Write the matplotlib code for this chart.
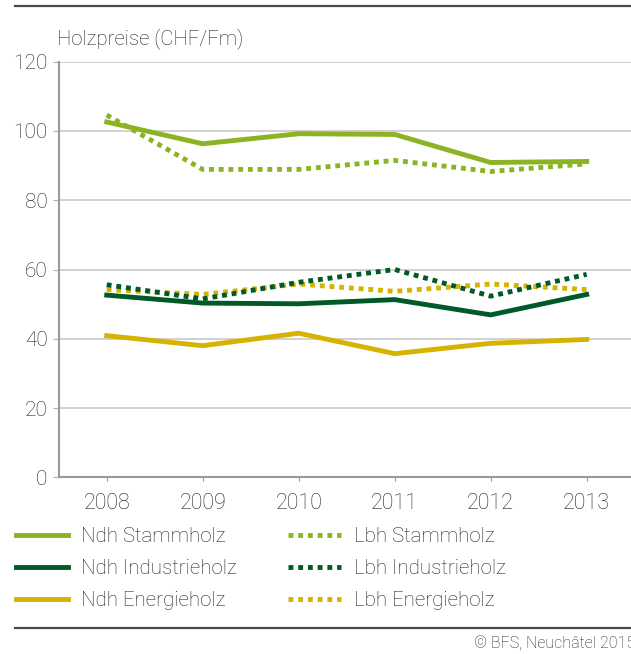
import matplotlib
matplotlib.use("Agg")
import matplotlib.pyplot as plt
from matplotlib.lines import Line2D

plt.rcParams['font.family'] = ['Roboto', 'DejaVu Sans']
plt.rcParams['font.weight'] = 'light'

years = [2008, 2009, 2010, 2011, 2012, 2013]
ndh_stammholz = [102.6, 96.3, 99.2, 99.0, 90.9, 91.2]
lbh_stammholz = [104.6, 88.9, 88.9, 91.5, 88.3, 90.5]
ndh_industrieholz = [52.6, 50.3, 50.1, 51.3, 46.9, 52.8]
lbh_industrieholz = [55.6, 51.5, 56.3, 60.0, 52.3, 58.6]
ndh_energieholz = [40.9, 38.0, 41.6, 35.7, 38.7, 39.8]
lbh_energieholz = [54.2, 52.8, 55.8, 53.7, 55.8, 54.2]
y_ticks = [0, 20, 40, 60, 80, 100, 120]

c_light = '#8bb424'
c_dark = '#005a28'
c_gold = '#d5b300'
txt = '#222222'

W, H = 631, 654
fig = plt.figure(figsize=(W / 100, H / 100), dpi=100)
L, R, T, B = 58.7, 634.7, 61.7, 477.3
ax = fig.add_axes([L / W, 1 - B / H, (R - L) / W, (B - T) / H])

lw = 3.5
dot = (0, (1, 1))
ax.plot(years, lbh_energieholz, color=c_gold, lw=lw, ls=dot, zorder=3)
ax.plot(years, lbh_industrieholz, color=c_dark, lw=lw, ls=dot, zorder=3)
ax.plot(years, lbh_stammholz, color=c_light, lw=lw, ls=dot, zorder=3)
ax.plot(years, ndh_energieholz, color=c_gold, lw=lw, zorder=4)
ax.plot(years, ndh_industrieholz, color=c_dark, lw=lw, zorder=4)
ax.plot(years, ndh_stammholz, color=c_light, lw=lw, zorder=4)

ax.set_xlim(2007.5, 2013.5)
ax.set_ylim(0, 120)
ax.set_yticks(y_ticks)
ax.set_xticks(years)
ax.set_xticklabels([str(y) for y in years])
ax.yaxis.grid(True, color='#c8c8c8', lw=1.2)
ax.set_axisbelow(True)
for s in ['top', 'right']:
    ax.spines[s].set_visible(False)
for s in ['left', 'bottom']:
    ax.spines[s].set_color('#9a9a9a')
    ax.spines[s].set_linewidth(1.5)
ax.tick_params(axis='y', length=4, color='#b0b0b0', labelsize=15, pad=4, labelcolor=txt)
ax.tick_params(axis='x', length=3, color='#9a9a9a', labelsize=15.5, pad=8, labelcolor=txt)

fig.text(57 / W, 1 - 39 / H, 'Holzpreise (CHF/Fm)', fontsize=14.7, va='center', ha='left', color=txt)

handles = [
    Line2D([], [], color=c_light, lw=lw),
    Line2D([], [], color=c_dark, lw=lw),
    Line2D([], [], color=c_gold, lw=lw),
    Line2D([], [], color=c_light, lw=lw, ls=dot),
    Line2D([], [], color=c_dark, lw=lw, ls=dot),
    Line2D([], [], color=c_gold, lw=lw, ls=dot),
]
labels = ['Ndh Stammholz', 'Ndh Industrieholz', 'Ndh Energieholz',
          'Lbh Stammholz', 'Lbh Industrieholz', 'Lbh Energieholz']
leg = fig.legend(handles, labels, ncol=2, loc='upper left',
                 bbox_to_anchor=(16 / W, 1 - 527 / H), frameon=False,
                 fontsize=14.8, handlelength=2.55, handletextpad=0.62,
                 columnspacing=2.5, labelspacing=0.64, borderaxespad=0,
                 borderpad=0)
for t in leg.get_texts():
    t.set_color(txt)

fig.add_artist(Line2D([15 / W, 1], [1 - 6 / H, 1 - 6 / H], color='#4a4a4a', lw=1.6))
fig.add_artist(Line2D([15 / W, 1], [1 - 627.7 / H, 1 - 627.7 / H], color='#4a4a4a', lw=1.6))
fig.text(474 / W, 1 - 644 / H, '© BFS, Neuchâtel 2015', fontsize=11.5, va='center', ha='left', color=txt)

fig.savefig('out.png', dpi=100)
